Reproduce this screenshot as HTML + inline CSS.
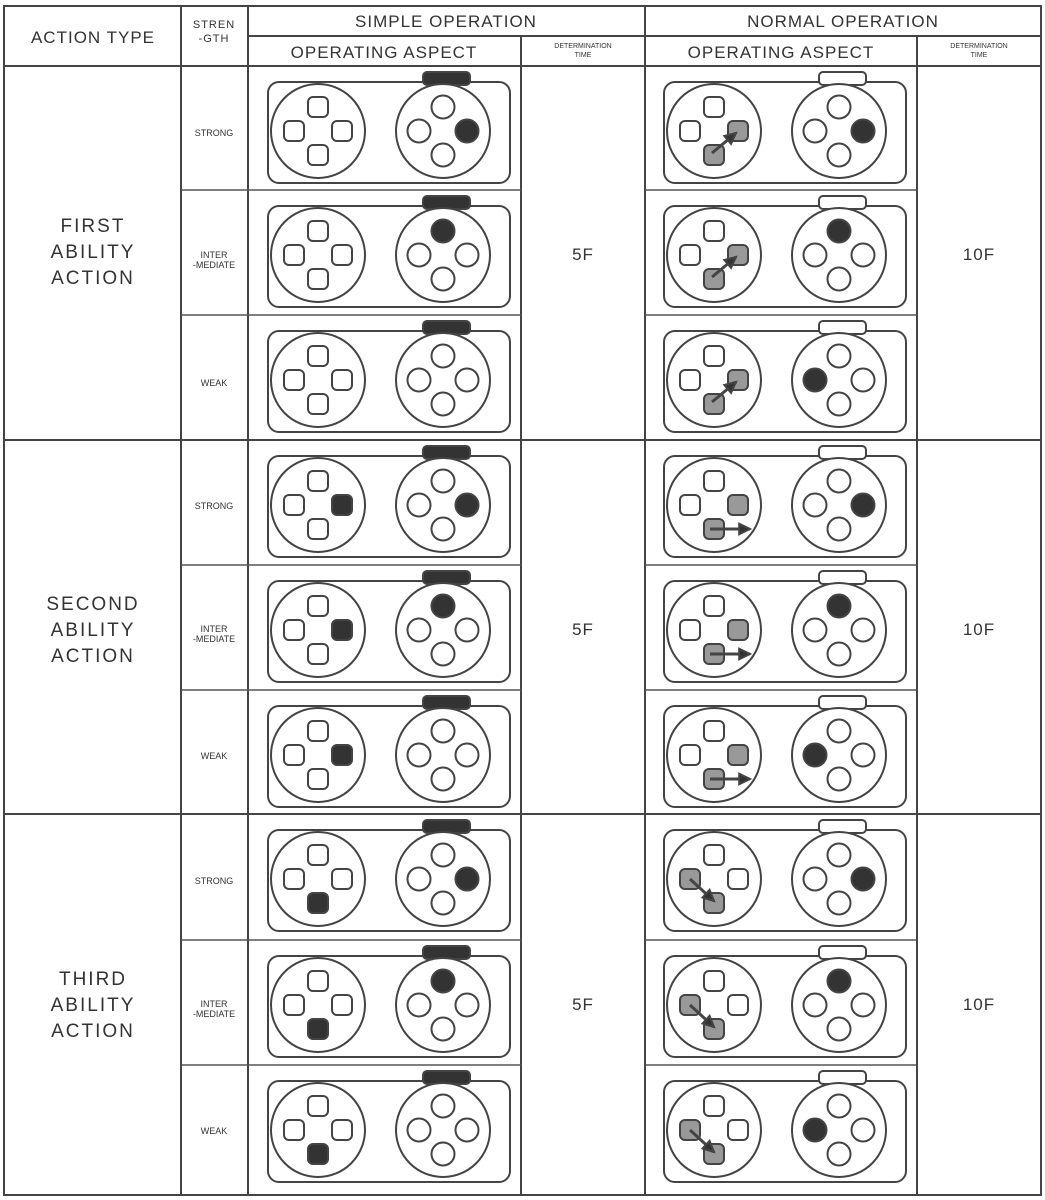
<!DOCTYPE html>
<html><head><meta charset="utf-8"><style>
body{margin:0;background:#fff}
svg{display:block}
text{font-family:"Liberation Sans",sans-serif;fill:#333}
</style></head><body>
<svg id="s" width="1045" height="1200" viewBox="0 0 1045 1200" xmlns="http://www.w3.org/2000/svg">
<g stroke="#444" stroke-width="2" fill="none">
<rect x="4" y="6" width="1037" height="1189"/>
<line x1="4" y1="66" x2="1041" y2="66"/>
<line x1="248" y1="36" x2="1041" y2="36"/>
<line x1="181" y1="6" x2="181" y2="1195"/>
<line x1="248" y1="6" x2="248" y2="1195"/>
<line x1="521" y1="36" x2="521" y2="1195"/>
<line x1="645" y1="6" x2="645" y2="1195"/>
<line x1="917" y1="36" x2="917" y2="1195"/>
<line x1="4" y1="440" x2="1041" y2="440"/>
<line x1="4" y1="814" x2="1041" y2="814"/>
</g>
<g id="sub" stroke="#555" stroke-width="1.5"></g>
<g font-size="17" text-anchor="middle" letter-spacing="1">
<text x="93" y="43">ACTION TYPE</text>
<text x="446" y="27">SIMPLE OPERATION</text>
<text x="843" y="27">NORMAL OPERATION</text>
<text x="384" y="58">OPERATING ASPECT</text>
<text x="781" y="58">OPERATING ASPECT</text>
<text x="214" y="28" font-size="11">STREN</text>
<text x="214" y="42" font-size="11">-GTH</text>
<text x="583" y="48" font-size="7" letter-spacing="0">DETERMINATION</text>
<text x="583" y="57" font-size="7" letter-spacing="0">TIME</text>
<text x="979" y="48" font-size="7" letter-spacing="0">DETERMINATION</text>
<text x="979" y="57" font-size="7" letter-spacing="0">TIME</text>
<text x="93" y="232" font-size="19" letter-spacing="2">FIRST</text>
<text x="93" y="258" font-size="19" letter-spacing="2">ABILITY</text>
<text x="93" y="284" font-size="19" letter-spacing="2">ACTION</text>
<text x="93" y="610" font-size="19" letter-spacing="2">SECOND</text>
<text x="93" y="636" font-size="19" letter-spacing="2">ABILITY</text>
<text x="93" y="662" font-size="19" letter-spacing="2">ACTION</text>
<text x="93" y="985" font-size="19" letter-spacing="2">THIRD</text>
<text x="93" y="1011" font-size="19" letter-spacing="2">ABILITY</text>
<text x="93" y="1037" font-size="19" letter-spacing="2">ACTION</text>
<text x="583" y="260">5F</text><text x="583" y="635">5F</text><text x="583" y="1010">5F</text>
<text x="979" y="260">10F</text><text x="979" y="635">10F</text><text x="979" y="1010">10F</text>
<g font-size="9" letter-spacing="0">
<text x="214" y="136">STRONG</text>
<text x="214" y="258">INTER</text><text x="214" y="268">-MEDIATE</text>
<text x="214" y="386">WEAK</text>
<text x="214" y="509">STRONG</text>
<text x="214" y="632">INTER</text><text x="214" y="642">-MEDIATE</text>
<text x="214" y="759">WEAK</text>
<text x="214" y="884">STRONG</text>
<text x="214" y="1007">INTER</text><text x="214" y="1017">-MEDIATE</text>
<text x="214" y="1134">WEAK</text>
</g>
</g>
<g id="ctl" stroke="#444" stroke-width="2" fill="none"></g>
</svg>
<script>
var NS="http://www.w3.org/2000/svg";
function el(p,t,a){var e=document.createElementNS(NS,t);for(var k in a)e.setAttribute(k,a[k]);p.appendChild(e);return e;}
var sub=document.getElementById('sub'),g=document.getElementById('ctl');
var rows=[66,190,315,440,565,690,814,940,1065,1195];
[190,315,565,690,940,1065].forEach(function(y){
 el(sub,'line',{x1:181,y1:y,x2:521,y2:y});el(sub,'line',{x1:645,y1:y,x2:917,y2:y});});
var d=[[0,-24],[24,0],[0,24],[-24,0]];
function ctrl(x0,ytop,filledTab,btn,dp,hat,arrow){
 var cy=ytop+65;
 el(g,'rect',{x:x0,y:cy-49,width:242,height:101,rx:11,fill:'#fff'});
 el(g,'rect',{x:x0+155,y:cy-59,width:47,height:13,rx:4,fill:filledTab?'#333':'#fff'});
 var lx=x0+50,rx=x0+175;
 el(g,'circle',{cx:lx,cy:cy,r:47,fill:'#fff'});
 el(g,'circle',{cx:rx,cy:cy,r:47,fill:'#fff'});
 for(var i=0;i<4;i++){
  var f='#fff';if(dp===i)f='#333';if(hat&&hat.indexOf(i)>=0)f='#999';
  el(g,'rect',{x:lx+d[i][0]-10,y:cy+d[i][1]-10,width:20,height:20,rx:5,fill:f});
  el(g,'circle',{cx:rx+d[i][0],cy:cy+d[i][1],r:11.5,fill:btn===i?'#333':'#fff'});
 }
 if(arrow){
  var a=arrow;el(g,'line',{x1:lx+a[0],y1:cy+a[1],x2:lx+a[2],y2:cy+a[3],'stroke-width':3});
  var ang=Math.atan2(a[3]-a[1],a[2]-a[0]),tx=lx+a[2],ty=cy+a[3];
  el(g,'polygon',{points:[tx,ty,tx-12*Math.cos(ang-0.45),ty-12*Math.sin(ang-0.45),tx-12*Math.cos(ang+0.45),ty-12*Math.sin(ang+0.45)].join(','),fill:'#333'});
 }
}
var btns=[1,0,3];
for(var grp=0;grp<3;grp++){
 for(var r=0;r<3;r++){
  var y=rows[grp*3+r];
  var sdp=grp==0?null:(grp==1?1:2);
  ctrl(268,y,true,r==2?null:btns[r],sdp,null,null);
  var hat,arr;
  if(grp==0){hat=[1,2];arr=[-2,22,22,2];}
  else if(grp==1){hat=[1,2];arr=[-4,24,36,24];}
  else{hat=[3,2];arr=[-24,0,0,22];}
  ctrl(664,y,false,btns[r],null,hat,arr);
 }
}
</script>
</body></html>
